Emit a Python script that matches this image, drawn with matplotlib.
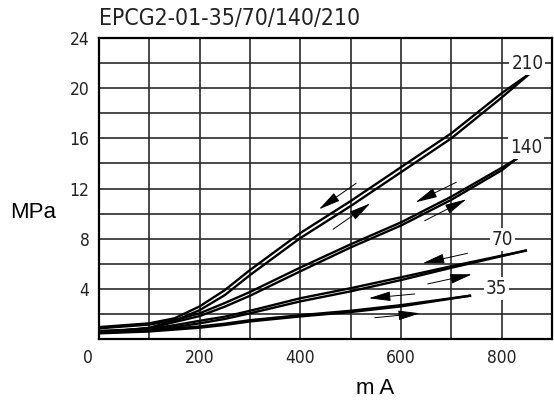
import numpy as np
import matplotlib.pyplot as plt
import matplotlib.transforms as mtransforms

# %% data (mA -> MPa), two branches per rating
ma_210 = [0, 100, 150, 200, 250, 300, 400, 500, 600, 700, 800, 857]
down_210 = [0.95, 1.25, 1.65, 2.6, 3.9, 5.5, 8.45, 11.0, 13.7, 16.4, 19.6, 21.2]
up_210 = [0.5, 0.9, 1.45, 2.3, 3.5, 5.1, 8.05, 10.6, 13.3, 16.0, 19.25, 21.2]

ma_140 = [0, 100, 150, 200, 250, 300, 400, 500, 600, 700, 800, 829]
down_140 = [0.85, 1.15, 1.5, 2.05, 2.87, 3.75, 5.7, 7.55, 9.3, 11.35, 13.65, 14.35]
up_140 = [0.55, 0.85, 1.35, 1.83, 2.58, 3.45, 5.4, 7.3, 9.05, 11.1, 13.45, 14.35]

ma_70 = [0, 100, 150, 200, 250, 300, 400, 500, 600, 700, 848]
down_70 = [0.65, 0.8, 1.1, 1.45, 1.78, 2.25, 3.25, 4.05, 4.92, 5.8, 7.05]
up_70 = [0.5, 0.65, 0.95, 1.25, 1.6, 2.05, 3.0, 3.8, 4.7, 5.68, 7.05]

ma_35 = [0, 100, 200, 250, 300, 400, 500, 600, 737]
down_35 = [0.55, 0.7, 1.0, 1.22, 1.5, 1.9, 2.25, 2.7, 3.45]
up_35 = [0.45, 0.6, 0.9, 1.12, 1.4, 1.8, 2.15, 2.6, 3.45]

# arrows: (tail, head) in data coords
arrows = [
    ((511, 12.42), (437, 10.34)), ((465, 8.75), (539, 10.82)),
    ((710, 12.5), (629, 10.9)), ((647, 9.43), (730, 11.14)),
    ((732, 6.83), (643, 6.04)), ((653, 4.39), (741, 5.16)),
    ((627, 3.59), (536, 3.25)), ((548, 1.70), (638, 2.05)),
]

# curve labels
label_text = ["210", "140", "70", "35"]
label_x = [851, 848, 802, 790]
label_y = [22.0, 15.3, 7.9, 4.0]

# %% plot
plt.rcParams['font.family'] = ['DejaVu Sans']
plt.rcParams['font.stretch'] = 'condensed'

fig = plt.figure(figsize=(5.54, 4.05), dpi=100)
ax = fig.add_axes([99 / 554, 66 / 405, 453 / 554, 301 / 405])

ax.set_xlim(0, 900)
ax.set_ylim(0, 24)

xt = np.arange(0, 901, 100)
yt = np.arange(0, 25, 2)
ax.set_xticks(xt)
ax.set_yticks(yt)
ax.set_xticklabels([str(v) if v % 200 == 0 and v < 900 else "" for v in xt])
ax.set_yticklabels([str(v) if v % 4 == 0 and v > 0 else "" for v in yt])
ax.tick_params(length=0, labelsize=12.5, pad=7, labelcolor="#222222")
ax.grid(True, color="#2a2a2a", lw=1.2)
ax.set_axisbelow(True)
for s in ax.spines.values():
    s.set_linewidth(1.6)

# shift the "0" label left a bit
for lab in ax.get_xticklabels():
    if lab.get_text() == "0":
        lab.set_transform(lab.get_transform() + mtransforms.ScaledTranslation(-11 / 100, 0, fig.dpi_scale_trans))

for x, d, u in [(ma_210, down_210, up_210), (ma_140, down_140, up_140),
                (ma_70, down_70, up_70), (ma_35, down_35, up_35)]:
    ax.plot(x, d, color="black", lw=1.7, zorder=3)
    ax.plot(x, u, color="black", lw=1.7, zorder=3)

for tail, head in arrows:
    ax.annotate("", xy=head, xytext=tail,
                arrowprops=dict(arrowstyle="-|>,head_length=0.9,head_width=0.2",
                                color="black", lw=0.7, mutation_scale=15,
                                shrinkA=0, shrinkB=0), zorder=4)

for t, x, y in zip(label_text, label_x, label_y):
    ax.text(x, y, t, ha="center", va="center", fontsize=13.5, zorder=5,
            color="#222222",
            bbox=dict(facecolor="white", edgecolor="none", pad=1.5))

ax.text(0, 1.025, "EPCG2-01-35/70/140/210", transform=ax.transAxes,
        ha="left", va="bottom", fontsize=16.5, color="#222222")
fig.text(33 / 554, 1 - 212 / 405, "MPa", ha="center", va="center",
         fontsize=16, family=["Liberation Sans", "DejaVu Sans"], stretch="normal")
fig.text(375 / 554, 1 - 389 / 405, "m A", ha="center", va="center",
         fontsize=16, family=["Liberation Sans", "DejaVu Sans"], stretch="normal")

fig.savefig("out.png", dpi=100)
